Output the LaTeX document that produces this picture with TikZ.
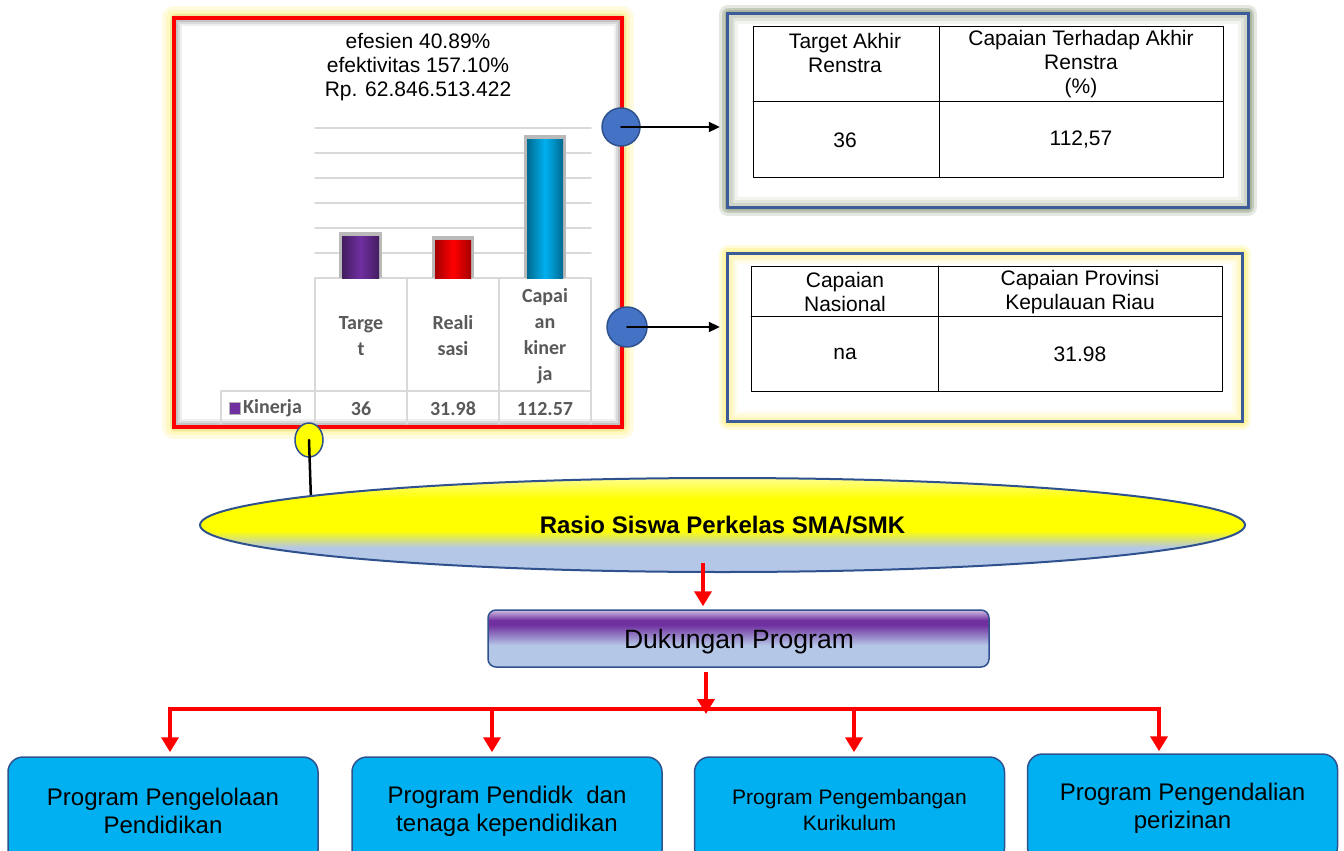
\documentclass[tikz,border=0pt]{standalone}
\usepackage{fontspec}
\setmainfont{Liberation Sans}
\newfontfamily\calibri{Carlito}
\usetikzlibrary{arrows.meta,shapes.geometric}

\definecolor{merah}{HTML}{FF0000}
\definecolor{ungu}{HTML}{7030A0}
\definecolor{ungumuda}{HTML}{D2BFE3}
\definecolor{biru}{HTML}{4472C4}
\definecolor{birutua}{HTML}{2F528F}
\definecolor{birubingkai}{HTML}{3B5C99}
\definecolor{cyanprog}{HTML}{00B0F0}
\definecolor{birumuda}{HTML}{B4C7E7}
\definecolor{kuning}{HTML}{FFFF00}
\definecolor{kuningpucat}{HTML}{FFFF8C}
\definecolor{abu}{HTML}{D9D9D9}
\definecolor{teksabu}{HTML}{595959}
\definecolor{kuningglow}{HTML}{FFF38A}
\definecolor{hijauglow}{HTML}{9AA68A}

\pgfdeclareverticalshading{elipsshade}{100bp}{color(0bp)=(birumuda); color(38bp)=(birumuda); color(47bp)=(kuning); color(64bp)=(kuning); color(75bp)=(kuningpucat); color(100bp)=(kuningpucat)}
\pgfdeclareverticalshading{dukungshade}{100bp}{color(0bp)=(birumuda); color(44bp)=(birumuda); color(62bp)=(ungu); color(66bp)=(ungu); color(75bp)=(ungumuda); color(100bp)=(ungumuda)}

\tikzset{
  garismerah/.style={draw=merah, line width=4.5pt, line cap=butt, line join=miter},
  panahmerah/.style={garismerah, -{Triangle[width=17pt,length=15pt]}},
  panahhitam/.style={draw=black, line width=2pt, -{Triangle[width=10pt,length=11pt]}},
  bulat/.style={circle, fill=biru, draw=birutua, line width=1.5pt, minimum size=38pt, inner sep=0pt},
  kotakprog/.style={draw=birutua, line width=1.5pt, fill=cyanprog, rounded corners=15pt,
    minimum width=310pt, align=center, font=\fontsize{24}{28}\selectfont},
  sel/.style={align=center, font=\fontsize{21}{24}\selectfont, inner sep=0pt},
  kategori/.style={align=center, font=\calibri\bfseries\fontsize{20}{26}\selectfont, text=teksabu, inner sep=0pt},
  grid/.style={draw=abu, line width=1.5pt},
  bingkai/.style={draw=birubingkai, line width=3pt, line join=miter}
}

\begin{document}
\begin{tikzpicture}[x=1pt,y=-1pt,line cap=round,line join=round]
  \clip (0,0) rectangle (1344,851);
  \fill[white] (0,0) rectangle (1344,851);

  % grafik kinerja
  \foreach \w/\o in {24/0.25,16/0.35,9/0.5}
    \draw[kuningglow, line width=\w pt, opacity=\o] (174,18) rectangle (622,427);
  \fill[white] (174,18) rectangle (622,427);
  \foreach \w/\o in {12/0.12,8/0.18,4/0.25}
    \draw[gray, line width=\w pt, opacity=\o] (176,20) rectangle (620,425);
  \draw[merah, line width=4.5pt, line cap=butt, line join=miter] (174,18) rectangle (622,427);

  \foreach \y in {128,153,178,203,228,253}
    \draw[grid] (315,\y) -- (591,\y);
  \draw[grid] (315,278) -- (591,278);
  \draw[grid] (221,391) -- (591,391);
  \foreach \x in {315,407,499,591}
    \draw[grid] (\x,278) -- (\x,424);
  \draw[grid] (221,391) -- (221,424);

  \fill[gray!55] (339,232) rectangle (382,278);
  \shade[left color=ungu!60!black, right color=ungu!60!black, middle color=ungu] (342,236) rectangle (379,278);
  \fill[gray!55] (432,236) rectangle (474,278);
  \shade[left color=merah!65!black, right color=merah!65!black, middle color=merah] (435,240) rectangle (471,278);
  \fill[gray!55] (524,135) rectangle (566,278);
  \shade[left color=cyanprog!60!black, right color=cyanprog!60!black, middle color=cyanprog] (527,139) rectangle (563,278);

  \node[sel] (judul) at (418,67) {efesien 40.89\%\\efektivitas 157.10\%\\Rp. 62.846.513.422};
  \node[kategori] (kTarget) at (361,336) {Targe\\t};
  \node[kategori] (kReal) at (453,336) {Reali\\sasi};
  \node[kategori] (kCapai) at (545,336) {Capai\\an\\kiner\\ja};

  \draw[gray!60, fill=ungu] (229,402) rectangle (240,414);
  \node[kategori, anchor=west] (kinerja) at (243,408) {Kinerja};
  \node[kategori] (vTarget) at (361,409) {36};
  \node[kategori] (vReal) at (453,409) {31.98};
  \node[kategori] (vCapai) at (545,409) {112.57};

  % tabel renstra
  \foreach \w/\o in {18/0.25,12/0.35,7/0.5}
    \draw[hijauglow, line width=\w pt, opacity=\o] (728,14) rectangle (1248,207);
  \node[fill=white, minimum width=520pt, minimum height=193pt, inner sep=0pt] (tabelA) at (988,110.5) {};
  \foreach \w/\o in {16/0.12,10/0.18,5/0.25}
    \draw[hijauglow, line width=\w pt, opacity=\o] (730,16) rectangle (1246,205);
  \draw[bingkai] (tabelA.south west) rectangle (tabelA.north east);
  \draw[line width=1pt, line cap=butt] (753,27) rectangle (1223,177);
  \draw[line width=1pt] (939,27) -- (939,177);
  \draw[line width=1pt] (753,101) -- (1223,101);
  \node[sel] (akhirA) at (845,53) {Target Akhir\\Renstra};
  \node[sel] (akhirB) at (1081,64) {Capaian Terhadap Akhir\\Renstra\\(\%)};
  \node[sel] (nilaiA) at (845,140) {36};
  \node[sel] (nilaiB) at (1081,140) {112,57};

  % tabel capaian
  \foreach \w/\o in {18/0.3,12/0.4,7/0.55}
    \draw[kuningglow, line width=\w pt, opacity=\o] (728,254) rectangle (1242,421);
  \node[fill=white, minimum width=514pt, minimum height=167pt, inner sep=0pt] (tabelB) at (985,337.5) {};
  \foreach \w/\o in {16/0.15,10/0.22,5/0.3}
    \draw[kuningglow, line width=\w pt, opacity=\o] (730,256) rectangle (1240,419);
  \draw[bingkai] (tabelB.south west) rectangle (tabelB.north east);
  \draw[line width=1pt, line cap=butt] (751,266) rectangle (1222,391);
  \draw[line width=1pt] (938,266) -- (938,391);
  \draw[line width=1pt] (751,316) -- (1222,316);
  \node[sel] (nasional) at (845,292) {Capaian\\Nasional};
  \node[sel] (provinsi) at (1080,292) {Capaian Provinsi\\Kepulauan Riau};
  \node[sel] (nilaiC) at (845,354) {na};
  \node[sel] (nilaiD) at (1080,354) {31.98};

  % penghubung
  \node[bulat] (bulatA) at (621,127) {};
  \node[bulat, minimum size=40pt] (bulatB) at (627,327) {};
  \draw[panahhitam, shorten >=8pt] (bulatA.center) -- (bulatA.center -| tabelA.west);
  \draw[panahhitam, shorten >=8pt] (bulatB.center) -- (bulatB.center -| tabelB.west);

  \node[ellipse, draw=birutua, fill=kuning, line width=1.5pt, minimum width=28pt, minimum height=34pt, inner sep=0pt] (titik) at (309,440) {};
  \coordinate (ikat) at (311,500);
  \draw[line width=2.5pt] (titik.center) -- (ikat);

  \node[ellipse, draw=birutua, line width=2pt, shading=elipsshade, minimum width=1045pt, minimum height=94pt,
    inner sep=0pt, font=\bfseries\fontsize{24}{28}\selectfont] (rasio) at (722.5,525) {Rasio Siswa Perkelas SMA/SMK};

  \node[draw=birutua, line width=1.5pt, shading=dukungshade, rounded corners=8pt, minimum width=501pt, minimum height=57pt,
    inner sep=0pt] (dukung) at (738.5,638.5) {};
  \node[font=\fontsize{26.5}{30}\selectfont, inner sep=0pt] (dukungteks) at (739,642) {Dukungan Program};

  \node[kotakprog, minimum height=108pt] (prog1) at (163,811) {Program Pengelolaan\\Pendidikan};
  \node[kotakprog, minimum height=108pt] (prog2) at (507,811) {Program Pendidk\ \ dan\\tenaga kependidikan};
  \node[kotakprog, minimum height=106pt, font=\fontsize{21}{26}\selectfont] (prog3) at (849.5,810) {Program Pengembangan\\Kurikulum};
  \node[kotakprog, minimum height=108pt] (prog4) at (1182.5,808) {Program Pengendalian\\perizinan};

  \coordinate (turun) at (703,563);
  \draw[panahmerah, shorten >=3pt] (turun) -- (turun |- dukung.north);
  \coordinate (pangkal) at (706,672);
  \coordinate (cabang) at (706,709);
  \coordinate (d1) at (170,709);
  \coordinate (d2) at (492,709);
  \coordinate (d3) at (854,709);
  \coordinate (d4) at (1159,709);
  \draw[garismerah, {Triangle[width=17pt,length=15pt]}-{Triangle[width=17pt,length=15pt]}, shorten <=4pt, shorten >=2pt]
    (d1 |- prog1.north) -- (d1) -- (d4) -- (d4 |- prog4.north);
  \draw[panahmerah] (pangkal) -- ([yshift=-5pt]cabang);
  \draw[panahmerah, shorten >=4pt] (d2) -- (d2 |- prog2.north);
  \draw[panahmerah, shorten >=4pt] (d3) -- (d3 |- prog3.north);
\end{tikzpicture}
\end{document}
